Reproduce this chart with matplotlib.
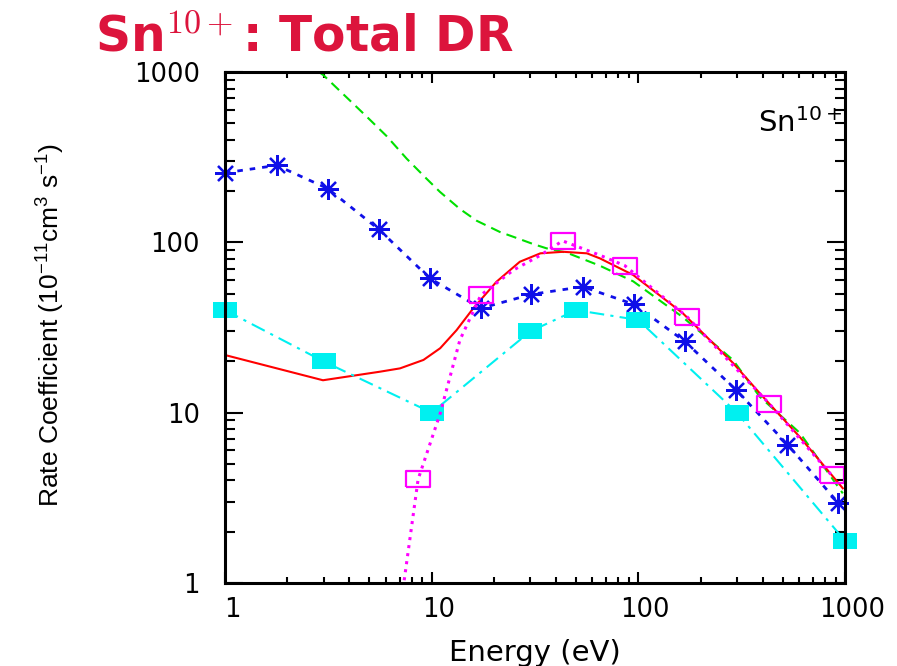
import matplotlib
matplotlib.use('Agg')
import matplotlib.pyplot as plt
from matplotlib.ticker import NullFormatter
from matplotlib.transforms import ScaledTranslation

# values (energy in eV, rate in 1e-11 cm^3 s^-1)
red_e = [1.0, 2.98, 5.62, 7.03, 9.13, 11.0, 13.2, 15.9, 20.6, 26.7, 33.6, 43.3,
         56.4, 65.2, 94.5, 164, 287, 387, 605, 976]
red_r = [21.8, 15.5, 17.4, 18.2, 20.4, 23.9, 30.5, 41.0, 58.7, 76.9, 86.2, 88.0,
         86.2, 80.5, 64.3, 38.4, 19.6, 13.0, 7.19, 3.6]

green_e = [2.85, 2.99, 3.74, 4.85, 6.06, 7.57, 9.46, 10.96, 13.7, 16.5, 21.4,
           25.8, 31.0, 36.0, 45.0, 65.0, 94.5, 164, 287, 387, 605, 976]
green_r = [1000, 960, 740, 547, 420, 310, 236, 198, 157, 134, 115,
           106, 97.7, 92.2, 87, 73, 59, 36.4, 20.4, 12.4, 7.6, 3.36]

blue_e = [1.0, 1.78, 3.14, 5.56, 9.8, 17.3, 30.4, 53.8, 95.5, 168, 297, 527, 927]
blue_r = [256, 283, 207, 119, 61.5, 41, 49.5, 54.9, 43.2, 26.2, 13.6, 6.5, 2.96]

cyan_e = [1, 3, 10, 30, 50, 100, 300, 1000]
cyan_r = [40, 20, 10, 30, 40, 35, 10, 1.77]

mag_e = [8.6, 17.3, 43, 86, 172, 430, 861]
mag_r = [4.06, 49, 102, 73, 36.6, 11.3, 4.3]
# dotted fit curve through the open squares
mag_fit_e = [7.1, 8.6, 11.0, 13.7, 17.3, 24.9, 33.6, 43, 65.2, 86, 172, 430, 861]
mag_fit_r = [0.75, 4.06, 9.9, 26.7, 49, 68.8, 84, 102, 84, 73, 36.6, 11.3, 4.3]

plt.rcParams['mathtext.fontset'] = 'custom'
plt.rcParams['mathtext.rm'] = 'Liberation Sans'
plt.rcParams['mathtext.it'] = 'Liberation Sans:italic'
plt.rcParams['mathtext.bf'] = 'Liberation Sans:bold'

box = [(-1.5, -1), (1.5, -1), (1.5, 1), (-1.5, 1), (-1.5, -1)]

fig = plt.figure(figsize=(8.97, 6.66), dpi=100)
ax = fig.add_axes([0.2508, 0.1246, 0.6912, 0.7673])
ax.set_xscale('log')
ax.set_yscale('log')

ax.plot(green_e, green_r, color='#00E000', lw=1.5, dashes=(5, 3))
ax.plot(red_e, red_r, color='#FF0000', lw=1.5)

ax.plot(blue_e, blue_r, color='#1010E8', lw=2, dashes=(2, 2.5))
ax.plot(blue_e, blue_r, ls='none', marker=(8, 2, 0), ms=15, mew=1.6,
        color='#1010E8', clip_on=False)

ax.plot(cyan_e, cyan_r, color='#00F0F0', lw=1.5, dashes=(7, 3, 1.5, 3))
ax.plot(cyan_e, cyan_r, ls='none', marker=box, ms=18, mew=0,
        color='#00F0F0', clip_on=False)

ax.plot(mag_fit_e, mag_fit_r, color='#FF00FF', lw=2.2, ls=':')
ax.plot(mag_e, mag_r, ls='none', marker=box, ms=18, mew=1.6,
        mfc='none', mec='#FF00FF', clip_on=False)

ax.set_xlim(1, 1000)
ax.set_ylim(1, 1000)

ax.set_xticks([1, 10, 100, 1000])
ax.set_xticklabels(['1', '10', '100', '1000'], fontsize=18.5, family='DejaVu Sans')
ax.set_yticks([1, 10, 100, 1000])
ax.set_yticklabels(['1', '10', '100', '1000'], fontsize=18.5, family='DejaVu Sans')
ax.xaxis.set_minor_formatter(NullFormatter())
ax.yaxis.set_minor_formatter(NullFormatter())

ax.tick_params(which='both', direction='in', top=True, right=True, width=1.5)
ax.tick_params(axis='x', which='major', length=8, pad=10)
ax.tick_params(axis='x', which='minor', length=4)
ax.tick_params(axis='y', which='major', length=13, pad=18)
ax.tick_params(axis='y', which='minor', length=7.5)
for sp in ax.spines.values():
    sp.set_linewidth(2.2)

shift = ScaledTranslation(5 / 72, 0, fig.dpi_scale_trans)
for lab in ax.get_xticklabels():
    lab.set_transform(lab.get_transform() + shift)

ax.set_xlabel('Energy (eV)', fontsize=21, family='DejaVu Sans')
ax.xaxis.set_label_coords(0.5, -0.11)
ax.set_ylabel('Rate Coefficient (10$^{-11}$cm$^3$ s$^{-1}$)', fontsize=19,
              family='Liberation Sans', math_fontfamily='custom')
ax.yaxis.set_label_coords(-0.255, 0.505)

ax.text(0.995, 0.883, 'Sn$^{10+}$', transform=ax.transAxes, ha='right',
        va='baseline', fontsize=21, family='DejaVu Sans',
        math_fontfamily='dejavusans')

fig.text(95 / 897, 1 - 52 / 666, 'Sn$^{10+}$: Total DR', fontsize=35,
         weight='bold', color='#DC143C', family='DejaVu Sans',
         math_fontfamily='cm', va='baseline')

fig.savefig('out.png', dpi=100)
plt.close()
